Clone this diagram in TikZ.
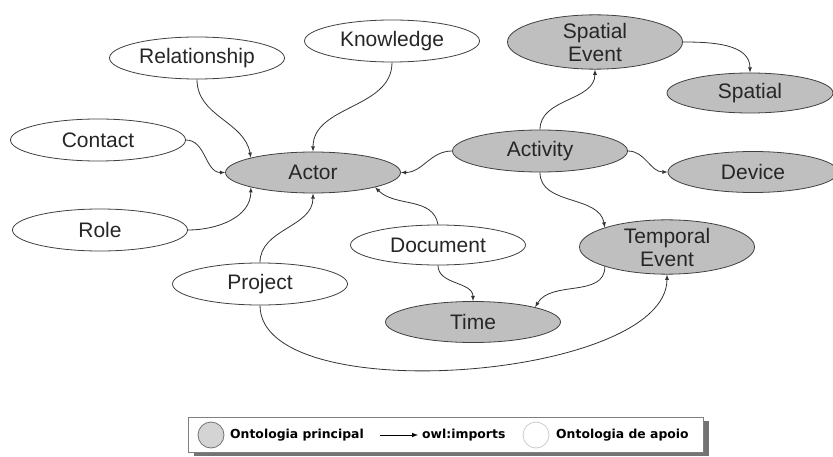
\documentclass[tikz,border=0pt]{standalone}
\usepackage{fontspec}
\setmainfont{Liberation Sans}
\newfontfamily\legfont{DejaVu Sans}
\usetikzlibrary{shapes.geometric}

\begin{document}
\begin{tikzpicture}[x=1pt,y=1pt,
	main/.style={ellipse,draw=black!75,fill=black!25,line width=0.8pt,inner sep=0pt,
		minimum width=175pt,minimum height=42pt,align=center,text=black!85,
		font=\fontsize{21}{23}\selectfont},
	aux/.style={main,fill=white},
	imp/.style={draw=black!80,line width=0.8pt,-latex},
	legtext/.style={anchor=west,inner sep=0pt,font=\legfont\bfseries\fontsize{12.4}{14}\selectfont}]
	\useasboundingbox (0,0) rectangle (833,456);
	% ontologies
	\node[aux] (rel) at (197,398) {Relationship};
	\node[aux] (know) at (392,415) {Knowledge};
	\node[aux] (cont) at (98,316) {Contact};
	\node[aux] (role) at (100,226) {Role};
	\node[main,minimum height=41pt] (act) at (313,283.5) {Actor};
	\node[aux] (proj) at (260,172) {Project};
	\node[aux,minimum height=40pt] (doc) at (438,211) {Document};
	\node[main,minimum height=41pt] (time) at (473,134) {Time};
	\node[main,minimum height=51pt] (temp) at (667,209) {Temporal\\Event};
	\node[main] (activ) at (540,305) {Activity};
	\node[main,minimum height=53pt] (spev) at (595,414) {Spatial\\Event};
	\node[main,minimum width=166pt,minimum height=40pt] (spat) at (750,363) {Spatial};
	\node[main,minimum width=170pt,minimum height=41pt] (dev) at (753,284) {Device};
	% imports
	\draw[imp] (rel.south) to[out=-90,in=100] (act.north west);
	\draw[imp] (know.south) to[out=-90,in=90] (act.north);
	\draw[imp] (cont.east) to[out=0,in=180] (act.west);
	\draw[imp] (role.east) to[out=0,in=-90] (act.south west);
	\draw[imp] (proj.north) to[out=90,in=-90] (act.south);
	\draw[imp] (doc.north) to[out=100,in=-45] (act.south east);
	\draw[imp] (activ.west) to[out=180,in=0] (act.east);
	\draw[imp] (activ.north) to[out=90,in=-90] (spev.south);
	\draw[imp] (spev.east) to[out=0,in=90] (spat.north);
	\draw[imp] (activ.east) to[out=0,in=180] (dev.west);
	\draw[imp] (activ.south) to[out=-90,in=100] (temp.north west);
	\draw[imp] (temp.south west) to[out=-90,in=60] (time.north east);
	\draw[imp] (doc.south) to[out=-90,in=90] (time.north);
	\draw[imp] (proj.south) to[out=-90,in=-90,looseness=0.66] (temp.south);
	% legend
	\fill[black!55] (194,0) rectangle (709,35);
	\node[draw=black!50,fill=white,line width=0.8pt,minimum width=515pt,minimum height=35pt,inner sep=0pt] (leg) at (445.5,21.5) {};
	\node[circle,draw=black!55,fill=black!17,line width=0.8pt,minimum size=26pt,inner sep=0pt] (legmain) at (211,21) {};
	\node[legtext] (legmaint) at (230,21) {Ontologia principal};
	\coordinate (arra) at (380,21);
	\coordinate (arrb) at (418,21);
	\draw[line width=1pt,-latex] (arra) -- (arrb);
	\node[legtext] (legimp) at (422,21) {owl:imports};
	\node[circle,draw=black!20,fill=white,line width=0.8pt,minimum size=26pt,inner sep=0pt] (legaux) at (536,21) {};
	\node[legtext] (legauxt) at (556,21) {Ontologia de apoio};
\end{tikzpicture}
\end{document}
